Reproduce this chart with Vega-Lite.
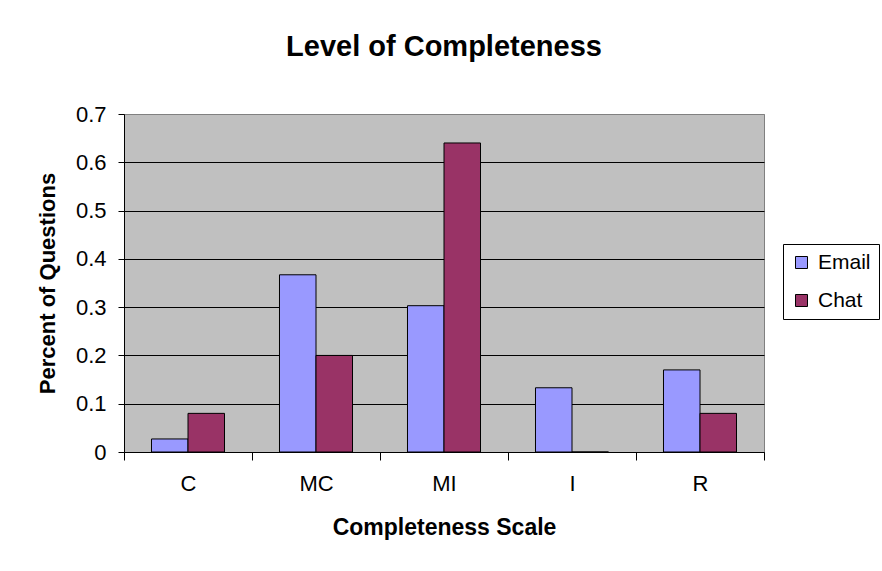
{
  "$schema": "https://vega.github.io/schema/vega-lite/v6.json",
  "width": 640,
  "height": 338,
  "autosize": {"type": "none"},
  "padding": {"left": 124, "top": 114, "right": 118, "bottom": 119},
  "background": "white",
  "title": {
    "text": "Level of Completeness",
    "font": "Liberation Sans",
    "fontSize": 29,
    "fontWeight": "bold",
    "color": "black",
    "anchor": "middle",
    "frame": "group",
    "baseline": "alphabetic",
    "offset": 18
  },
  "data": {
    "values": [
      {"cat": "C", "series": "Email", "value": 0.027},
      {"cat": "C", "series": "Chat", "value": 0.08},
      {"cat": "MC", "series": "Email", "value": 0.367},
      {"cat": "MC", "series": "Chat", "value": 0.2},
      {"cat": "MI", "series": "Email", "value": 0.303},
      {"cat": "MI", "series": "Chat", "value": 0.64},
      {"cat": "I", "series": "Email", "value": 0.133},
      {"cat": "I", "series": "Chat", "value": 0},
      {"cat": "R", "series": "Email", "value": 0.17},
      {"cat": "R", "series": "Chat", "value": 0.08}
    ]
  },
  "mark": {"type": "bar", "stroke": "black", "strokeWidth": 1},
  "encoding": {
    "x": {
      "field": "cat",
      "type": "nominal",
      "sort": ["C", "MC", "MI", "I", "R"],
      "scale": {"paddingInner": 0, "paddingOuter": 0},
      "axis": {
        "title": "Completeness Scale",
        "titleFont": "Liberation Sans",
        "titleFontSize": 23,
        "titleFontWeight": "bold",
        "titleColor": "black",
        "titlePadding": 22,
        "labelFont": "Liberation Sans",
        "labelFontSize": 22,
        "labelColor": "black",
        "labelAngle": 0,
        "labelPadding": 13,
        "tickSize": 8,
        "tickColor": "black",
        "domainColor": "black",
        "tickBand": "extent",
        "grid": false
      }
    },
    "xOffset": {
      "field": "series",
      "sort": ["Email", "Chat"],
      "scale": {"paddingInner": 0, "paddingOuter": 0.753}
    },
    "y": {
      "field": "value",
      "type": "quantitative",
      "scale": {"domain": [0, 0.7], "nice": false},
      "axis": {
        "title": "Percent of Questions",
        "titleFont": "Liberation Sans",
        "titleFontSize": 22,
        "titleFontWeight": "bold",
        "titleColor": "black",
        "titlePadding": 16,
        "labelFont": "Liberation Sans",
        "labelFontSize": 22,
        "labelColor": "black",
        "labelPadding": 12,
        "tickSize": 6,
        "tickColor": "black",
        "domainColor": "black",
        "values": [0, 0.1, 0.2, 0.3, 0.4, 0.5, 0.6, 0.7],
        "format": "~g",
        "grid": true,
        "gridColor": {"condition": {"test": "datum.value >= 0.69", "value": "#808080"}, "value": "black"},
        "gridWidth": 1
      }
    },
    "color": {
      "field": "series",
      "type": "nominal",
      "sort": ["Email", "Chat"],
      "scale": {"domain": ["Email", "Chat"], "range": ["#9999FF", "#993366"]},
      "legend": {
        "title": null,
        "orient": "none",
        "legendX": 659,
        "legendY": 130,
        "strokeColor": "black",
        "fillColor": "white",
        "padding": 8,
        "labelFont": "Liberation Sans",
        "labelFontSize": 21,
        "labelColor": "black",
        "labelOffset": 6,
        "symbolType": "square",
        "symbolSize": 144,
        "symbolStrokeColor": "black",
        "symbolStrokeWidth": 1,
        "rowPadding": 16
      }
    }
  },
  "config": {
    "view": {"fill": "#C0C0C0", "stroke": "#808080", "strokeWidth": 1}
  }
}
